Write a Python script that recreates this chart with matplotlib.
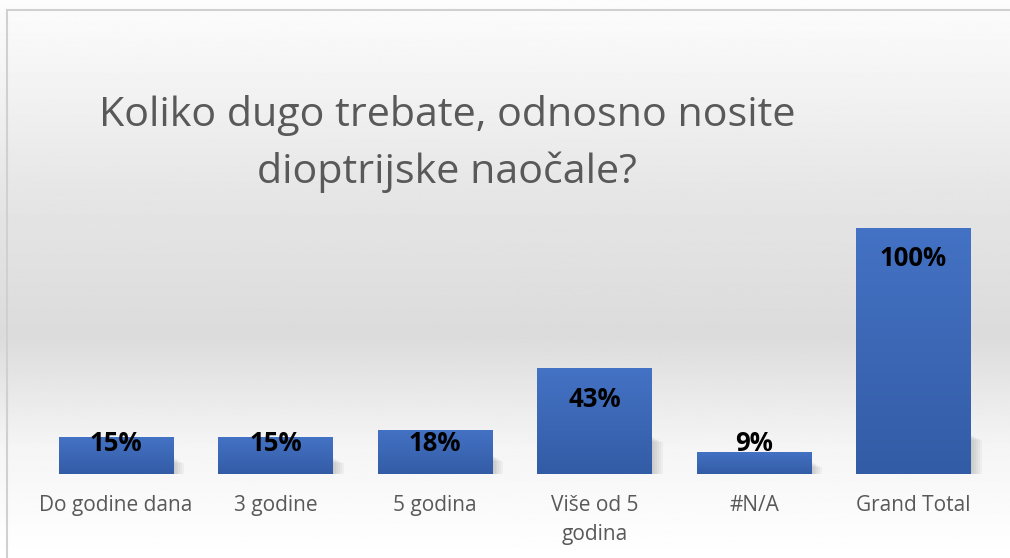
import numpy as np
import matplotlib.pyplot as plt
from matplotlib.colors import LinearSegmentedColormap
from matplotlib.patches import Rectangle

categories = ['Do godine dana', '3 godine', '5 godina', 'Više od 5\ngodina', '#N/A', 'Grand Total']
values = [0.15, 0.15, 0.18, 0.43, 0.09, 1.00]
labels = ['15%', '15%', '18%', '43%', '9%', '100%']
title = 'Koliko dugo trebate, odnosno nosite\ndioptrijske naočale?'

plt.rcParams['font.family'] = ['Open Sans', 'DejaVu Sans']

fig = plt.figure(figsize=(10.1, 5.58), dpi=100)

# background gradient (white -> gray -> white)
bg = fig.add_axes([0, 0, 1, 1])
bg.set_axis_off()
yy = np.linspace(0, 1, 300)
shade = np.interp(yy, [0, 0.08, 0.35, 0.6, 0.8, 1.0], [0.99, 0.97, 0.90, 0.86, 0.96, 1.0])
bg.imshow(shade[:, None], cmap='gray', vmin=0, vmax=1, aspect='auto',
          extent=[0, 1, 0, 1], origin='upper')
bg.set_xlim(0, 1)
bg.set_ylim(0, 1)
# border (top and left visible)
bg.plot([7 / 1010, 1], [1 - 10 / 558, 1 - 10 / 558], color='#d0d0d0', lw=1.5)
bg.plot([7 / 1010, 7 / 1010], [0, 1 - 10 / 558], color='#d0d0d0', lw=1.5)

# plot area: baseline at y=474px, 1.0 = 246px; x centers 116..913.5
x0 = (116 - 79.75) / 1010
x1 = (913.5 + 79.75) / 1010
ylo = 0.0
yhi = 1.2
bottom_px = 474
top_px = bottom_px - 246 * yhi
ax = fig.add_axes([x0, 1 - bottom_px / 558, x1 - x0, (bottom_px - top_px) / 558])
ax.patch.set_alpha(0)
ax.set_xlim(-0.5, len(values) - 0.5)
ax.set_ylim(ylo, yhi)
for s in ax.spines.values():
    s.set_visible(False)
ax.set_yticks([])

x = np.arange(len(values))
w = 0.715
bar_cmap = LinearSegmentedColormap.from_list('b', ['#335ca6', '#4472c4'])
grad = np.linspace(0, 1, 100)[:, None]
bars = ax.bar(x, values, width=w, color='#3c66b5', zorder=3)
for b, v in zip(bars, values):
    bx = b.get_x()
    # soft shadow to the right, lower part
    for k in range(6):
        off = 0.01 + k * 0.012
        ax.add_patch(Rectangle((bx + w * 0.5, 0), w * 0.5 + off, min(v * 0.3, 0.14) + 0.02 - k * 0.004,
                               color='#808080', alpha=0.07, lw=0, zorder=2))
    im = ax.imshow(grad, cmap=bar_cmap, aspect='auto', origin='lower',
                   extent=[bx, bx + w, 0, v], zorder=4)
    im.set_clip_path(b)

for xi, v, lab in zip(x, values, labels):
    ly = max(v - 0.126, 0.122)
    ax.text(xi, ly, lab, ha='center', va='center', fontsize=18.5, fontweight='bold',
            color='black', zorder=5)

ax.set_xticks(x)
ax.set_xticklabels(categories, fontsize=15, color='#595959', linespacing=1.5)
ax.tick_params(axis='x', length=0, pad=15)
for t in ax.get_xticklabels():
    t.set_va('top')

fig.text(447 / 1010, 1 - 144 / 558, title, ha='center', va='center', fontsize=29.7,
         color='#595959', linespacing=1.48)

fig.savefig('out.png', dpi=100)
